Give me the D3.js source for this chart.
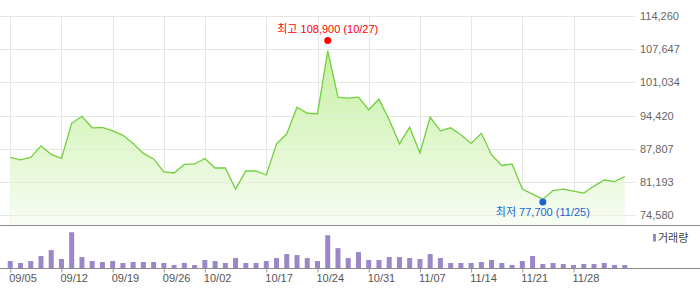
<!DOCTYPE html>
<html>
<head>
<meta charset="utf-8">
<script src="https://cdn.jsdelivr.net/npm/d3@7"></script>
<style>
  body { margin: 0; background: #fff; }
  svg { display: block; }
  text { font-family: "Liberation Sans", Arial, "Noto Sans CJK KR", sans-serif; }
</style>
</head>
<body>
<div id="chart"></div>
<script>
// trading days (index = position on the x axis)
var dates = [
  "09/05","09/06","09/07","09/08","09/09",
  "09/12","09/13","09/14","09/15","09/16",
  "09/19","09/20","09/21","09/22","09/23",
  "09/26","09/27","09/28","09/29",
  "10/02","10/04","10/05","10/06","10/11","10/13",
  "10/17","10/18","10/19","10/20","10/21",
  "10/24","10/27","10/28","10/29","10/30",
  "10/31","11/01","11/02","11/03","11/04",
  "11/07","11/08","11/09","11/10","11/11",
  "11/14","11/15","11/16","11/17","11/18",
  "11/21","11/23","11/25","11/26","11/27",
  "11/28","11/29","11/30","12/01","12/02","12/05"
];

// closing price
var closes = [
  86100, 85600, 86100, 88400, 86700,
  85900, 92900, 94300, 92000, 92100,
  91400, 90500, 88900, 86900, 85800,
  83200, 83000, 84700, 84800,
  85900, 84000, 84000, 79800, 83400, 83400,
  82600, 88800, 90800, 96100, 94900,
  94800, 107300, 98100, 97900, 98100,
  95600, 97700, 93600, 88800, 92100,
  87000, 94100, 91400, 92000, 90600,
  88900, 90900, 86600, 84500, 84800,
  79800, 78800, 77800, 79500, 79800,
  79400, 79000, 80400, 81600, 81300, 82300
];

// volume (thousand shares)
var volumes = [
  220, 160, 220, 370, 550,
  280, 1090, 340, 220, 190,
  220, 160, 190, 190, 190,
  160, 100, 160, 100,
  250, 220, 160, 310, 160, 160,
  220, 310, 430, 400, 310,
  220, 1000, 610, 310, 490,
  250, 250, 340, 340, 310,
  280, 430, 310, 160, 160,
  160, 190, 250, 160, 100,
  220, 370, 130, 160, 130,
  100, 130, 130, 160, 100, 100
];

var yTicks = [74580, 81193, 87807, 94420, 101034, 107647, 114260];
var tickIdx = [0, 5, 10, 15, 19, 25, 30, 35, 40, 45, 50, 55];

var high = { idx: 31, value: 108900, label: "최고 108,900 (10/27)" };
var low  = { idx: 52, value: 77700,  label: "최저 77,700 (11/25)" };

var width = 700, height = 289;
var plotRight = 635;
var priceTop = 16, priceBottom = 215.3, priceFloor = 225.3;
var volTop = 225.3, volBottom = 268.3;

var svg = d3.select("#chart").append("svg")
  .attr("width", width)
  .attr("height", height);

var x = d3.scaleLinear()
  .domain([-1, dates.length])
  .range([0, plotRight]);

var y = d3.scaleLinear()
  .domain([yTicks[0], yTicks[yTicks.length - 1]])
  .range([priceBottom, priceTop]);

var yVol = d3.scaleLinear()
  .domain([0, 1300])
  .range([volBottom, volTop]);

// gradient for the area under the price line
var defs = svg.append("defs");
var grad = defs.append("linearGradient")
  .attr("id", "areaGrad")
  .attr("gradientUnits", "userSpaceOnUse")
  .attr("x1", 0).attr("x2", 0)
  .attr("y1", y(d3.max(closes))).attr("y2", priceFloor);
grad.append("stop").attr("offset", "0%").attr("stop-color", "#c6f1a2");
grad.append("stop").attr("offset", "100%").attr("stop-color", "#f8fdf4");

// grid
svg.append("g")
  .selectAll("line")
  .data(yTicks)
  .join("line")
  .attr("x1", 0).attr("x2", plotRight)
  .attr("y1", d => Math.round(y(d)) + 0.5)
  .attr("y2", d => Math.round(y(d)) + 0.5)
  .attr("stroke", "#e6e6e6");

svg.append("g")
  .selectAll("line")
  .data(tickIdx)
  .join("line")
  .attr("x1", d => Math.round(x(d)) + 0.5)
  .attr("x2", d => Math.round(x(d)) + 0.5)
  .attr("y1", priceTop).attr("y2", priceFloor)
  .attr("stroke", "#e6e6e6");

// area + line
var area = d3.area()
  .x((d, i) => x(i))
  .y0(priceFloor)
  .y1(d => y(d));

var line = d3.line()
  .x((d, i) => x(i))
  .y(d => y(d));

svg.append("path")
  .datum(closes)
  .attr("d", area)
  .attr("fill", "url(#areaGrad)");

// redraw grid lines lightly over the fill
svg.append("g")
  .selectAll("line")
  .data(yTicks)
  .join("line")
  .attr("x1", 0).attr("x2", plotRight)
  .attr("y1", d => Math.round(y(d)) + 0.5)
  .attr("y2", d => Math.round(y(d)) + 0.5)
  .attr("stroke", "#e2e8dc")
  .attr("stroke-opacity", 0.6);

svg.append("path")
  .datum(closes)
  .attr("d", line)
  .attr("fill", "none")
  .attr("stroke", "#72cf3e")
  .attr("stroke-width", 1.3);

// y axis labels on the right
svg.append("g")
  .selectAll("text")
  .data(yTicks)
  .join("text")
  .attr("x", 640)
  .attr("y", d => y(d) + 4)
  .attr("font-size", "11px")
  .attr("fill", "#666")
  .text(d => d3.format(",")(d));

// high / low markers
svg.append("circle")
  .attr("cx", x(high.idx))
  .attr("cy", y(high.value) - 2.3)
  .attr("r", 3.5)
  .attr("fill", "#f00");
svg.append("text")
  .attr("x", x(high.idx))
  .attr("y", y(high.value) - 10)
  .attr("text-anchor", "middle")
  .attr("font-size", "11px")
  .attr("fill", "#f00")
  .text(high.label);

svg.append("circle")
  .attr("cx", x(low.idx))
  .attr("cy", y(low.value) + 2.4)
  .attr("r", 3.5)
  .attr("fill", "#1b62d6");
svg.append("text")
  .attr("x", x(low.idx))
  .attr("y", y(low.value) + 16)
  .attr("text-anchor", "middle")
  .attr("font-size", "11px")
  .attr("fill", "#1b62d6")
  .text(low.label);

// volume bars
svg.append("g")
  .selectAll("rect")
  .data(volumes)
  .join("rect")
  .attr("x", (d, i) => x(i) - 2.5)
  .attr("y", d => yVol(d))
  .attr("width", 5)
  .attr("height", d => volBottom - yVol(d))
  .attr("fill", "#9b86c7");

// panel separator and bottom axis
svg.append("line")
  .attr("x1", 0).attr("x2", width)
  .attr("y1", 225.5).attr("y2", 225.5)
  .attr("stroke", "#8c8c8c");

var xAxis = d3.axisBottom(x)
  .tickValues(tickIdx)
  .tickSize(4)
  .tickFormat(i => dates[i]);

var gx = svg.append("g")
  .attr("transform", "translate(0," + 268.5 + ")")
  .call(xAxis);
gx.select(".domain").remove();
gx.selectAll(".tick line").attr("stroke", "#999");
gx.selectAll(".tick text")
  .attr("font-size", "11px")
  .attr("font-family", "'Liberation Sans', Arial, sans-serif")
  .attr("fill", "#555")
  .attr("text-anchor", "start")
  .attr("x", -1.5)
  .attr("y", 6);

svg.append("line")
  .attr("x1", 0).attr("x2", width)
  .attr("y1", 268.5).attr("y2", 268.5)
  .attr("stroke", "#8c8c8c");

// legend
svg.append("rect")
  .attr("x", 653).attr("y", 234)
  .attr("width", 3).attr("height", 7.5)
  .attr("fill", "#9b86c7");
svg.append("text")
  .attr("x", 658).attr("y", 242)
  .attr("font-size", "11px")
  .attr("fill", "#444")
  .text("거래량");
</script>
</body>
</html>
